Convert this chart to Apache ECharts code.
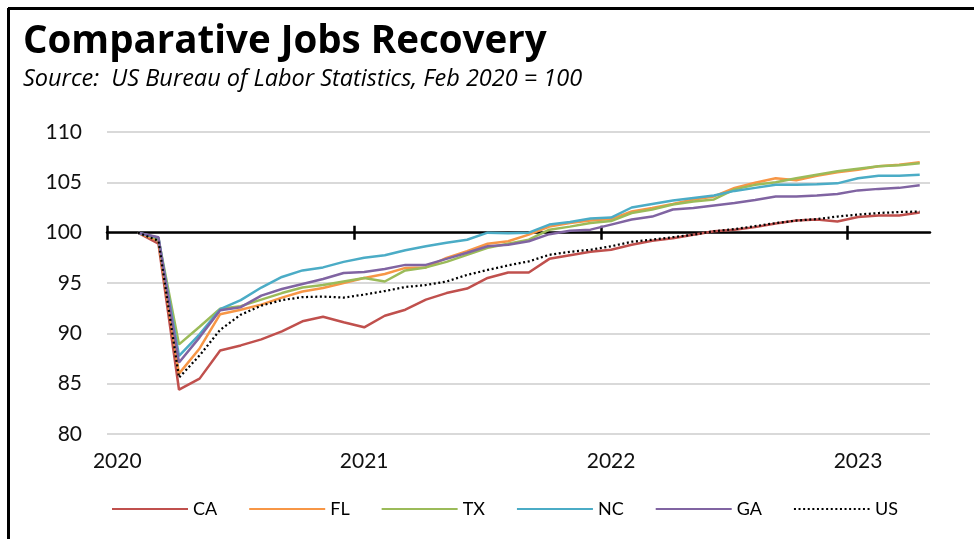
<!DOCTYPE html>
<html>
<head>
<meta charset="utf-8">
<script src="https://cdn.jsdelivr.net/npm/echarts@6/dist/echarts.min.js"></script>
<style>
  html, body { margin: 0; padding: 0; background: #fff; }
  #chart { width: 974px; height: 539px; }
</style>
</head>
<body>
<div id="chart"></div>
<script>
// Monthly index of payroll jobs, Feb 2020 = 100
const months = [
  '2020-01','2020-02','2020-03','2020-04','2020-05','2020-06','2020-07','2020-08','2020-09','2020-10','2020-11','2020-12',
  '2021-01','2021-02','2021-03','2021-04','2021-05','2021-06','2021-07','2021-08','2021-09','2021-10','2021-11','2021-12',
  '2022-01','2022-02','2022-03','2022-04','2022-05','2022-06','2022-07','2022-08','2022-09','2022-10','2022-11','2022-12',
  '2023-01','2023-02','2023-03','2023-04'
];

const CA = [null, 100, 98.9, 84.4, 85.5, 88.3, 88.8, 89.4, 90.2, 91.2, 91.65, 91.1,
  90.6, 91.75, 92.35, 93.35, 94.0, 94.45, 95.5, 96.05, 96.05, 97.4, 97.75, 98.1,
  98.3, 98.8, 99.2, 99.45, 99.8, 100.15, 100.3, 100.55, 100.9, 101.2, 101.3, 101.1,
  101.55, 101.7, 101.7, 102.0];
const FL = [null, 100, 99.2, 86.0, 88.5, 91.9, 92.35, 92.85, 93.55, 94.15, 94.5, 95.0,
  95.5, 95.9, 96.5, 96.55, 97.5, 98.15, 98.9, 99.15, 99.8, 100.6, 100.95, 101.2,
  101.35, 102.1, 102.45, 102.85, 103.3, 103.6, 104.45, 104.95, 105.4, 105.2, 105.65, 106.0,
  106.25, 106.6, 106.75, 107.0];
const TX = [null, 100, 99.4, 88.9, 90.65, 92.45, 92.7, 93.35, 94.0, 94.55, 94.8, 95.15,
  95.5, 95.15, 96.25, 96.55, 97.1, 97.8, 98.5, 98.9, 99.3, 100.3, 100.6, 100.95,
  101.15, 101.95, 102.3, 102.8, 103.1, 103.3, 104.3, 104.75, 105.0, 105.4, 105.75, 106.1,
  106.35, 106.6, 106.7, 106.9];
const NC = [null, 100, 99.5, 87.75, 89.9, 92.4, 93.3, 94.55, 95.6, 96.25, 96.55, 97.1,
  97.5, 97.75, 98.25, 98.65, 99.0, 99.3, 100.0, 99.95, 100.0, 100.8, 101.05, 101.4,
  101.5, 102.5, 102.85, 103.2, 103.45, 103.7, 104.15, 104.45, 104.75, 104.75, 104.8, 104.9,
  105.4, 105.65, 105.65, 105.75];
const GA = [null, 100, 99.55, 87.1, 89.6, 92.3, 92.6, 93.75, 94.4, 94.9, 95.4, 96.0,
  96.1, 96.4, 96.8, 96.8, 97.4, 98.0, 98.65, 98.8, 99.15, 99.85, 100.2, 100.3,
  100.8, 101.3, 101.6, 102.3, 102.45, 102.7, 102.95, 103.25, 103.6, 103.6, 103.7, 103.85,
  104.2, 104.35, 104.45, 104.7];
const US = [null, 100, 99.2, 85.6, 87.8, 90.35, 91.85, 92.75, 93.3, 93.6, 93.65, 93.55,
  93.85, 94.2, 94.6, 94.8, 95.15, 95.8, 96.3, 96.75, 97.15, 97.8, 98.1, 98.3,
  98.65, 99.1, 99.3, 99.55, 99.8, 100.15, 100.35, 100.65, 100.95, 101.2, 101.35, 101.6,
  101.8, 101.95, 102.05, 102.1];

const seriesNames = ['CA', 'FL', 'TX', 'NC', 'GA', 'US'];
const seriesData = [CA, FL, TX, NC, GA, US];
const seriesColors = ['#C0504D', '#F79646', '#9BBB59', '#4BACC6', '#8064A2', '#000000'];

const yTicks = [80, 85, 90, 95, 100, 105, 110];
const baseValue = 100;

const FONT = 'Lato';
const HEAD_FONT = 'Open Sans';
const isJanuary = (m) => m.endsWith('-01');
// year boundaries (left edge of each January band)
const yearBounds = months.map((m, i) => isJanuary(m) ? i - 0.5 : null).filter(v => v !== null);

const chart = echarts.init(document.getElementById('chart'), null, { renderer: 'canvas' });

const series = seriesNames.map((name, k) => ({
  name: name,
  type: 'line',
  xAxisIndex: 0,
  yAxisIndex: 0,
  data: seriesData[k],
  symbol: 'none',
  showSymbol: false,
  connectNulls: false,
  animation: false,
  lineStyle: name === 'US'
    ? { color: seriesColors[k], width: 2.25, type: [2, 2.6] }
    : { color: seriesColors[k], width: 2.5 },
  itemStyle: { color: seriesColors[k] }
}));

const option = {
  animation: false,
  backgroundColor: '#ffffff',
  title: {
    text: 'Comparative Jobs Recovery',
    subtext: 'Source:  US Bureau of Labor Statistics, Feb 2020 = 100',
    left: 18,
    top: 18,
    itemGap: 6,
    textStyle: { fontFamily: HEAD_FONT, fontWeight: 'bold', fontSize: 38.5, color: '#000' },
    subtextStyle: { fontFamily: HEAD_FONT, fontStyle: 'italic', fontSize: 23.5, color: '#000' }
  },
  legend: {
    data: seriesNames,
    left: 106,
    top: 495,
    itemWidth: 76,
    itemHeight: 14,
    itemGap: 31,
    itemStyle: { opacity: 0 },
    textStyle: { fontFamily: FONT, fontSize: 18, color: '#000' }
  },
  grid: { left: 107, right: 44, top: 132, bottom: 105, containLabel: false },
  xAxis: [
    {
      type: 'category',
      data: months,
      boundaryGap: true,
      axisLine: { show: false },
      axisTick: { show: false },
      splitLine: { show: false },
      axisLabel: {
        interval: (i, v) => isJanuary(v),
        formatter: (v) => isJanuary(v) ? v.slice(0, 4) : '',
        fontFamily: FONT, fontSize: 21, color: '#111', margin: 17
      }
    },
    {
      // baseline at the index value
      type: 'value',
      min: -0.5, max: months.length - 0.5,
      position: 'bottom',
      offset: 0,
      axisLine: { show: true, onZero: false, lineStyle: { color: '#000', width: 2.5 } },
      axisTick: { show: false },
      axisLabel: { show: false },
      splitLine: { show: false }
    },
    {
      // year boundary marks crossing the baseline
      type: 'value',
      min: -0.5, max: months.length - 0.5,
      position: 'bottom',
      offset: 0,
      axisLine: { show: false, onZero: false },
      axisTick: { show: true, length: 14, customValues: yearBounds, lineStyle: { color: '#000', width: 2.5 } },
      axisLabel: { show: false },
      splitLine: { show: false }
    }
  ],
  yAxis: {
    type: 'value',
    min: yTicks[0],
    max: yTicks[yTicks.length - 1],
    interval: 5,
    axisLine: { show: false },
    axisTick: { show: false },
    axisLabel: { fontFamily: FONT, fontSize: 21, color: '#111', margin: 25 },
    splitLine: { lineStyle: { color: '#D9D9D9', width: 2 } }
  },
  graphic: [
    { type: 'line', shape: { x1: 8, y1: 8.5, x2: 974, y2: 8.5 }, style: { stroke: '#000', lineWidth: 3 }, silent: true },
    { type: 'line', shape: { x1: 8.5, y1: 8, x2: 8.5, y2: 539 }, style: { stroke: '#000', lineWidth: 3 }, silent: true }
  ],
  series: series
};

chart.setOption(option);

// place the baseline axes at the index value on the y scale
const yBase = chart.convertToPixel({ yAxisIndex: 0 }, baseValue);
const gridBottom = 539 - 105;
const off = -(gridBottom - yBase);
chart.setOption({
  xAxis: [
    {},
    { offset: off },
    { offset: off - 7 }
  ]
});
</script>
</body>
</html>
